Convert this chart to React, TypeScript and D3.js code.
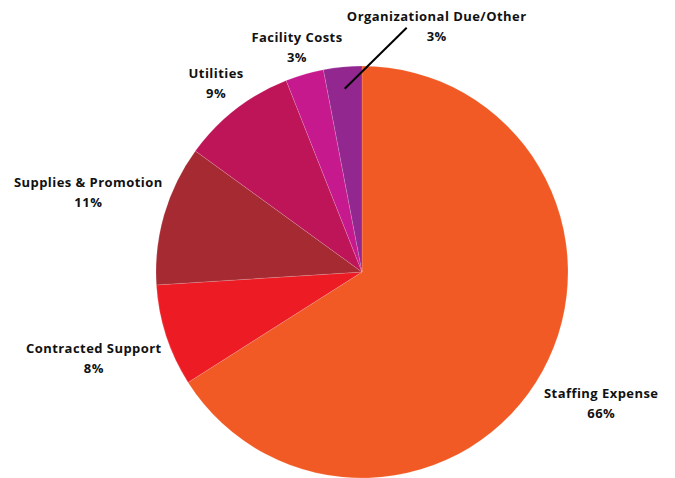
import React from "react";
import * as d3 from "d3";

const categories = [
  "Staffing Expense",
  "Contracted Support",
  "Supplies & Promotion",
  "Utilities",
  "Facility Costs",
  "Organizational Due/Other",
];
const shares = [66, 8, 11, 9, 3, 3];
const colors = ["#F15A24", "#ED1C24", "#A62A32", "#BE1558", "#C5198D", "#92278F"];

const width = 675;
const height = 478;
const cx = 362;
const cy = 272;
const radius = 206;

// how far out each label sits (from the centre of the pie)
const labelRadius = [273, 282, 285, 238, 233, 0];

export default function App() {
  const pie = d3
    .pie<number>()
    .sort(null)
    .value((d) => d)
    .startAngle(0)
    .endAngle(2 * Math.PI);
  const arcs = pie(shares);

  const arc = d3.arc<d3.PieArcDatum<number>>().innerRadius(0).outerRadius(radius);

  const centroidAt = (a: d3.PieArcDatum<number>, r: number) =>
    d3.arc<d3.PieArcDatum<number>>().innerRadius(r).outerRadius(r).centroid(a);

  // leader line for the small last slice
  const last = arcs[arcs.length - 1];
  const [lx0, ly0] = centroidAt(last, 184);
  const lx1 = lx0 + 62;
  const ly1 = ly0 - 61;

  const textStyle: React.CSSProperties = {
    fontFamily: "'Open Sans', 'DejaVu Sans', sans-serif",
    fontWeight: 700,
    fontSize: 13,
    letterSpacing: "0.45px",
    fill: "#111",
  };

  return (
    <>
      <style>{`body{margin:0}`}</style>
      <svg width={width} height={height} style={{ display: "block", background: "#fff" }}>
        <g transform={`translate(${cx},${cy})`}>
          {arcs.map((a, i) => (
            <path
              key={categories[i]}
              d={arc(a) || ""}
              fill={colors[i]}
              stroke="rgba(255,255,255,0.25)"
              strokeWidth={0.6}
            />
          ))}
          <line x1={lx0} y1={ly0} x2={lx1} y2={ly1} stroke="#000" strokeWidth={2} />
          {arcs.map((a, i) => {
            let x: number;
            let y: number;
            if (i === arcs.length - 1) {
              x = lx1 + 30;
              y = ly1 - 1;
            } else {
              [x, y] = centroidAt(a, labelRadius[i]);
            }
            return (
              <text key={categories[i]} textAnchor="middle" style={textStyle}>
                <tspan x={x} y={y - 6}>
                  {categories[i]}
                </tspan>
                <tspan x={x} y={y + 14}>
                  {shares[i]}%
                </tspan>
              </text>
            );
          })}
        </g>
      </svg>
    </>
  );
}
